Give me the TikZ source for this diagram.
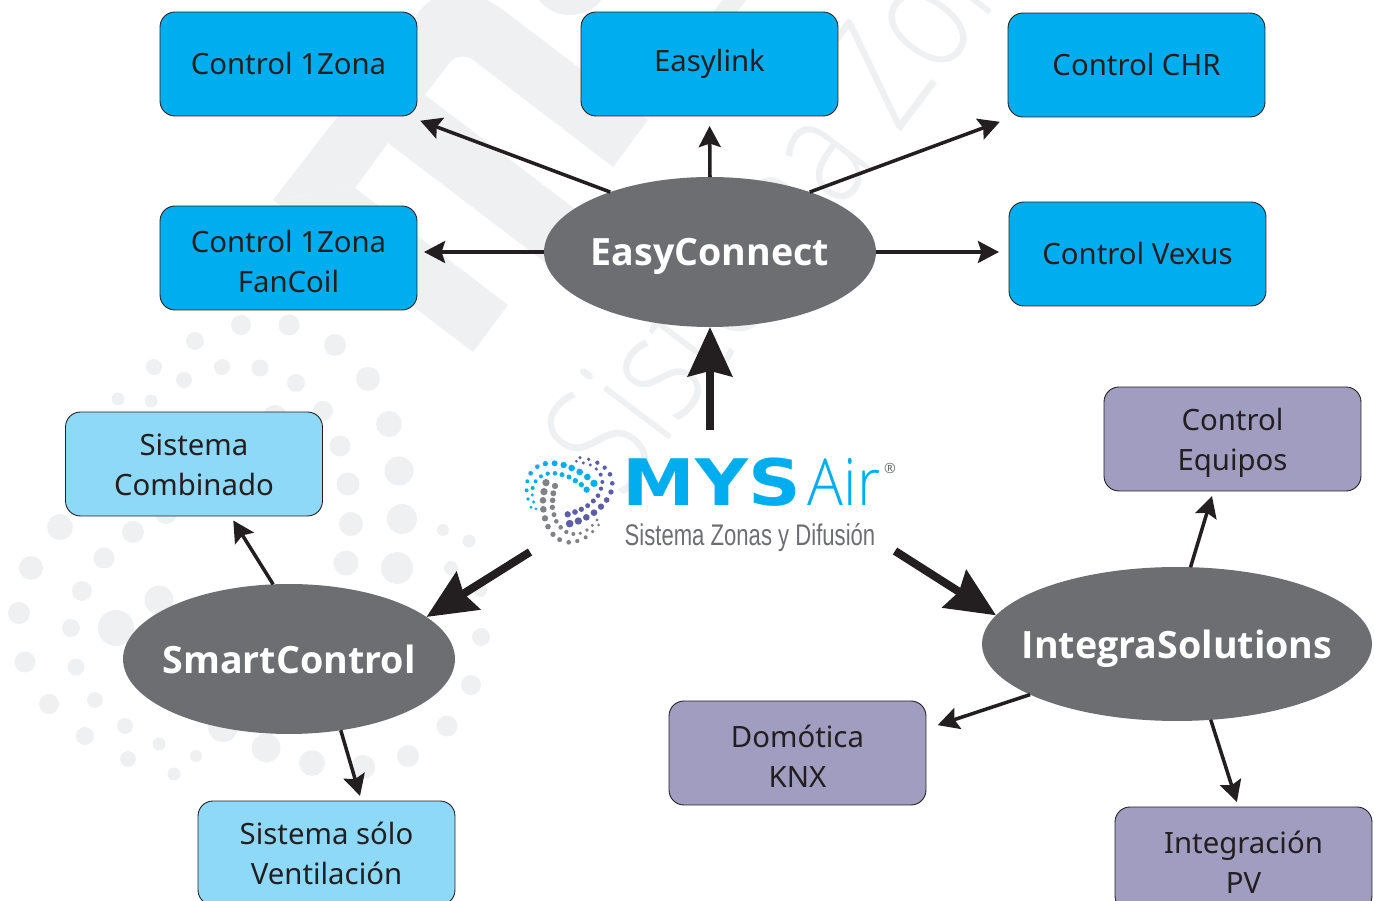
\documentclass[tikz,border=0pt]{standalone}
\usepackage{fontspec}
\setmainfont{Noto Sans}
\newfontfamily\hubfont{Open Sans}
\newfontfamily\thinfont{Open Sans Light}
\newfontfamily\logofont{DejaVu Sans}
\newfontfamily\subfont{Liberation Sans}
\usetikzlibrary{arrows.meta,shapes.geometric}
\definecolor{zone-blue}{HTML}{00AEEF}
\definecolor{vent-blue}{HTML}{8ED8F8}
\definecolor{integra-violet}{HTML}{A09DC0}
\definecolor{hub-gray}{HTML}{6D6E71}
\definecolor{arrow-black}{HTML}{231F20}
\definecolor{mark-gray}{HTML}{EFF0F2}
\definecolor{logo-violet}{HTML}{5B5EA8}
\definecolor{logo-gray}{HTML}{808285}
\newcommand{\pushline}[1]{\rule{0pt}{#1}}
\tikzset{
	optionbox/.style={draw=arrow-black,line width=.5pt,rounded corners=8.5pt,minimum width=5.14cm,minimum height=2.08cm,inner sep=0pt,outer sep=0pt,align=center,text=arrow-black,font=\fontsize{16.7}{22.7}\selectfont},
	hub/.style={ellipse,fill=hub-gray,inner xsep=-2cm,inner ysep=0pt,outer sep=0pt,text=white,text depth=0pt,font=\fontsize{21.4}{24}\selectfont\hubfont\bfseries},
	thinarrow/.style={draw=arrow-black,line width=2pt,-{Stealth[length=12pt,width=12.5pt,inset=2pt]}},
	thickarrow/.style={draw=arrow-black,line width=4.6pt,-{Stealth[length=28pt,width=25pt,inset=3pt]}},
}
\begin{document}
\begin{tikzpicture}[x=.02cm,y=-.02cm]
	\useasboundingbox (0,0) rectangle (1374,901);
	\fill[mark-gray] (273,200) -- (418,13) .. controls (440,-15) and (470,-14) .. (503,10) -- (648,120) -- (613,167) -- (473,60) .. controls (465,54) and (453,56) .. (447,66) -- (425,95) -- (600,228) -- (575,285) -- (388,143) -- (355,188) -- cycle;
	\fill[mark-gray] (273,200) -- (355,188) -- (508,305) -- (473,352) -- cycle;
	\fill[mark-gray] (570,-25) circle (40);
	\fill[mark-gray] (712,14) -- (724,-2) -- (748,-2) -- (735,14) -- cycle;
	\foreach \x/\y/\r in {241/325/10,289/325/10.5,195/341/9,335/345/11,154/367/8,222/367/8,260/368/8.5,184/380/8,296/383/9,368/379/12,118/399/6.5,151/401/6.5,323/411/10,275/417/12,389/424/13,340/446/10.5,399/471/14.5,348/484/11.5,402/519/15,351/524/12,443/530/6,469/541/6.5,60/527/13,133/532/11,166/513/11,104/558/10.5,31/568/12,346/563/12.5,397/568/16,451/568/7,82/591/10,159/600/14.5,480/590/7,19/613/11,71/628/9,116/628/18,481/637/9,25/662/10.5,76/667/8.5,471/685/10,49/704/10,95/700/8,447/726/10.5,125/726/8,85/736/9,223/727/15,159/744/6.5,266/748/14.5,408/756/11,128/759/8,196/756/6,312/763/13,363/767/12,174/774/6.5}
		\fill[mark-gray] (\x,\y) circle (\r);
	\node[anchor=base west,rotate=53,xscale=.78,text=mark-gray,font=\fontsize{88}{88}\selectfont\thinfont] (watermark) at (620,505) {Sistema Zonas};
	\node[optionbox,fill=zone-blue] (zonaone) at (288.5,64) {Control 1Zona};
	\node[optionbox,fill=zone-blue] (easylink) at (709.5,64) {Easylink};
	\node[optionbox,fill=zone-blue] (chr) at (1136.5,65) {Control CHR};
	\node[optionbox,fill=zone-blue] (fancoil) at (288.5,258) {\pushline{16.6pt}Control 1Zona\\FanCoil};
	\node[optionbox,fill=zone-blue] (vexus) at (1137.5,254) {Control Vexus};
	\node[optionbox,fill=vent-blue] (combinado) at (194,464) {\pushline{13pt}Sistema\\Combinado};
	\node[optionbox,fill=vent-blue] (ventilacion) at (326.5,853) {Sistema sólo\\Ventilación};
	\node[optionbox,fill=integra-violet] (equipos) at (1232.5,439) {\pushline{17.6pt}Control\\Equipos};
	\node[optionbox,fill=integra-violet] (knx) at (797.5,753) {\pushline{16.1pt}Domótica\\KNX};
	\node[optionbox,fill=integra-violet] (pv) at (1243.5,859) {\pushline{16.1pt}Integración\\PV};
	\node[hub,minimum width=6.64cm,minimum height=3cm] (easyconnect) at (710,252) {EasyConnect};
	\node[hub,minimum width=6.64cm,minimum height=3cm] (smartcontrol) at (289,659) {SmartControl};
	\node[hub,minimum width=7.8cm,minimum height=3.08cm] (integra) at (1177,644) {IntegraSolutions};
	\draw[thinarrow,shorten >=2pt] (easyconnect.149) -- ([yshift=-2pt]zonaone.south east);
	\draw[thinarrow,shorten >=5.7pt] (easyconnect.north) -- (easylink.south);
	\draw[thinarrow,shorten >=5pt] (easyconnect.31) -- ([yshift=-1pt]chr.south west);
	\draw[thinarrow,shorten >=4pt] (easyconnect.west) -- (fancoil.east |- easyconnect.west);
	\draw[thinarrow,shorten >=5.7pt] (easyconnect.east) -- (vexus.west |- easyconnect.east);
	\draw[thinarrow,shorten >=3pt] (smartcontrol.102) -- (combinado.south -| 230.5,0);
	\draw[thinarrow,shorten >=3pt] (smartcontrol.-54) -- (ventilacion.north -| 361.5,0);
	\draw[thinarrow,shorten >=3pt] (integra.80) -- (equipos.south -| 1213.5,0);
	\draw[thinarrow,shorten >=7pt] (integra.199) -- (knx.east |- 0,729);
	\draw[thinarrow,shorten >=3pt] (integra.-66) -- (pv.north -| 1238.5,0);
	\coordinate (logonorth) at (710,430);
	\coordinate (logowest) at (530,552);
	\coordinate (logoeast) at (895,551);
	\draw[thickarrow] (logonorth) -- (easyconnect.south);
	\draw[thickarrow] (logowest) -- (smartcontrol.17);
	\draw[thickarrow] (logoeast) -- (integra.171);
	\begin{scope}[shift={(515,450)},x=.00667cm,y=-.00667cm]
		\foreach \x/\y/\r in {47/70/7,67/50/7,91/41/8,119/40/9,146/45/9.5,170/54/10,194/66/10,217/81/10,237/100/11,215/119/9.5,37/94/6,62/94/6,78/79/6,98/71/6.5,120/70/7,141/74/7.5,162/81/7.5,181/92/8,199/104/8,35/121/6,53/114/6,52/135/5,39/147/5.5,56/156/5,48/172/5,63/177/4.5}
			\fill[zone-blue] (\x,\y) circle (\r);
		\foreach \x/\y/\r in {195/23/5,184/34/4.5,221/28/5.5,205/39/5,226/45/5,247/38/6.5,244/57/5.5,269/53/6.5,257/74/6,285/73/7,262/96/6,292/100/7,258/116/6.5,288/126/8,249/137/7,235/153/7.5,275/150/8.5,218/167/7.5,258/170/9.5,199/178/8,237/188/10,180/186/8.5,214/202/10,158/193/9.5,190/213/11,164/221/11.5}
			\fill[logo-violet] (\x,\y) circle (\r);
		\foreach \x/\y/\r in {93/98/11,120/108/9.5,87/125/11,115/130/9,84/151/10,113/151/8.5,85/178/10,112/172/8,90/205/9.5,117/194/7.5,99/230/8.5,124/214/7,114/253/8,137/232/7,134/269/7.5,154/246/6.5,161/277/7,175/252/6,187/273/6.5,196/250/5.5,212/262/6,216/240/5.5,233/245/5.5,232/226/5,251/225/4.5,246/210/5}
			\fill[logo-gray] (\x,\y) circle (\r);
	\end{scope}
	\node[xscale=1.14,text=zone-blue,font=\fontsize{36.5}{40}\selectfont\logofont\bfseries] (logomys) at (712,482) {MYS};
	\node[xscale=.92,text=zone-blue,font=\fontsize{37}{40}\selectfont\thinfont] (logoair) at (844,482) {Air};
	\node[text=hub-gray,font=\fontsize{8}{9}\selectfont] (logoreg) at (890,468) {®};
	\node[xscale=.74,text=hub-gray,font=\fontsize{17}{20}\selectfont\subfont] (logosub) at (750,538) {Sistema Zonas y Difusión};
\end{tikzpicture}
\end{document}
